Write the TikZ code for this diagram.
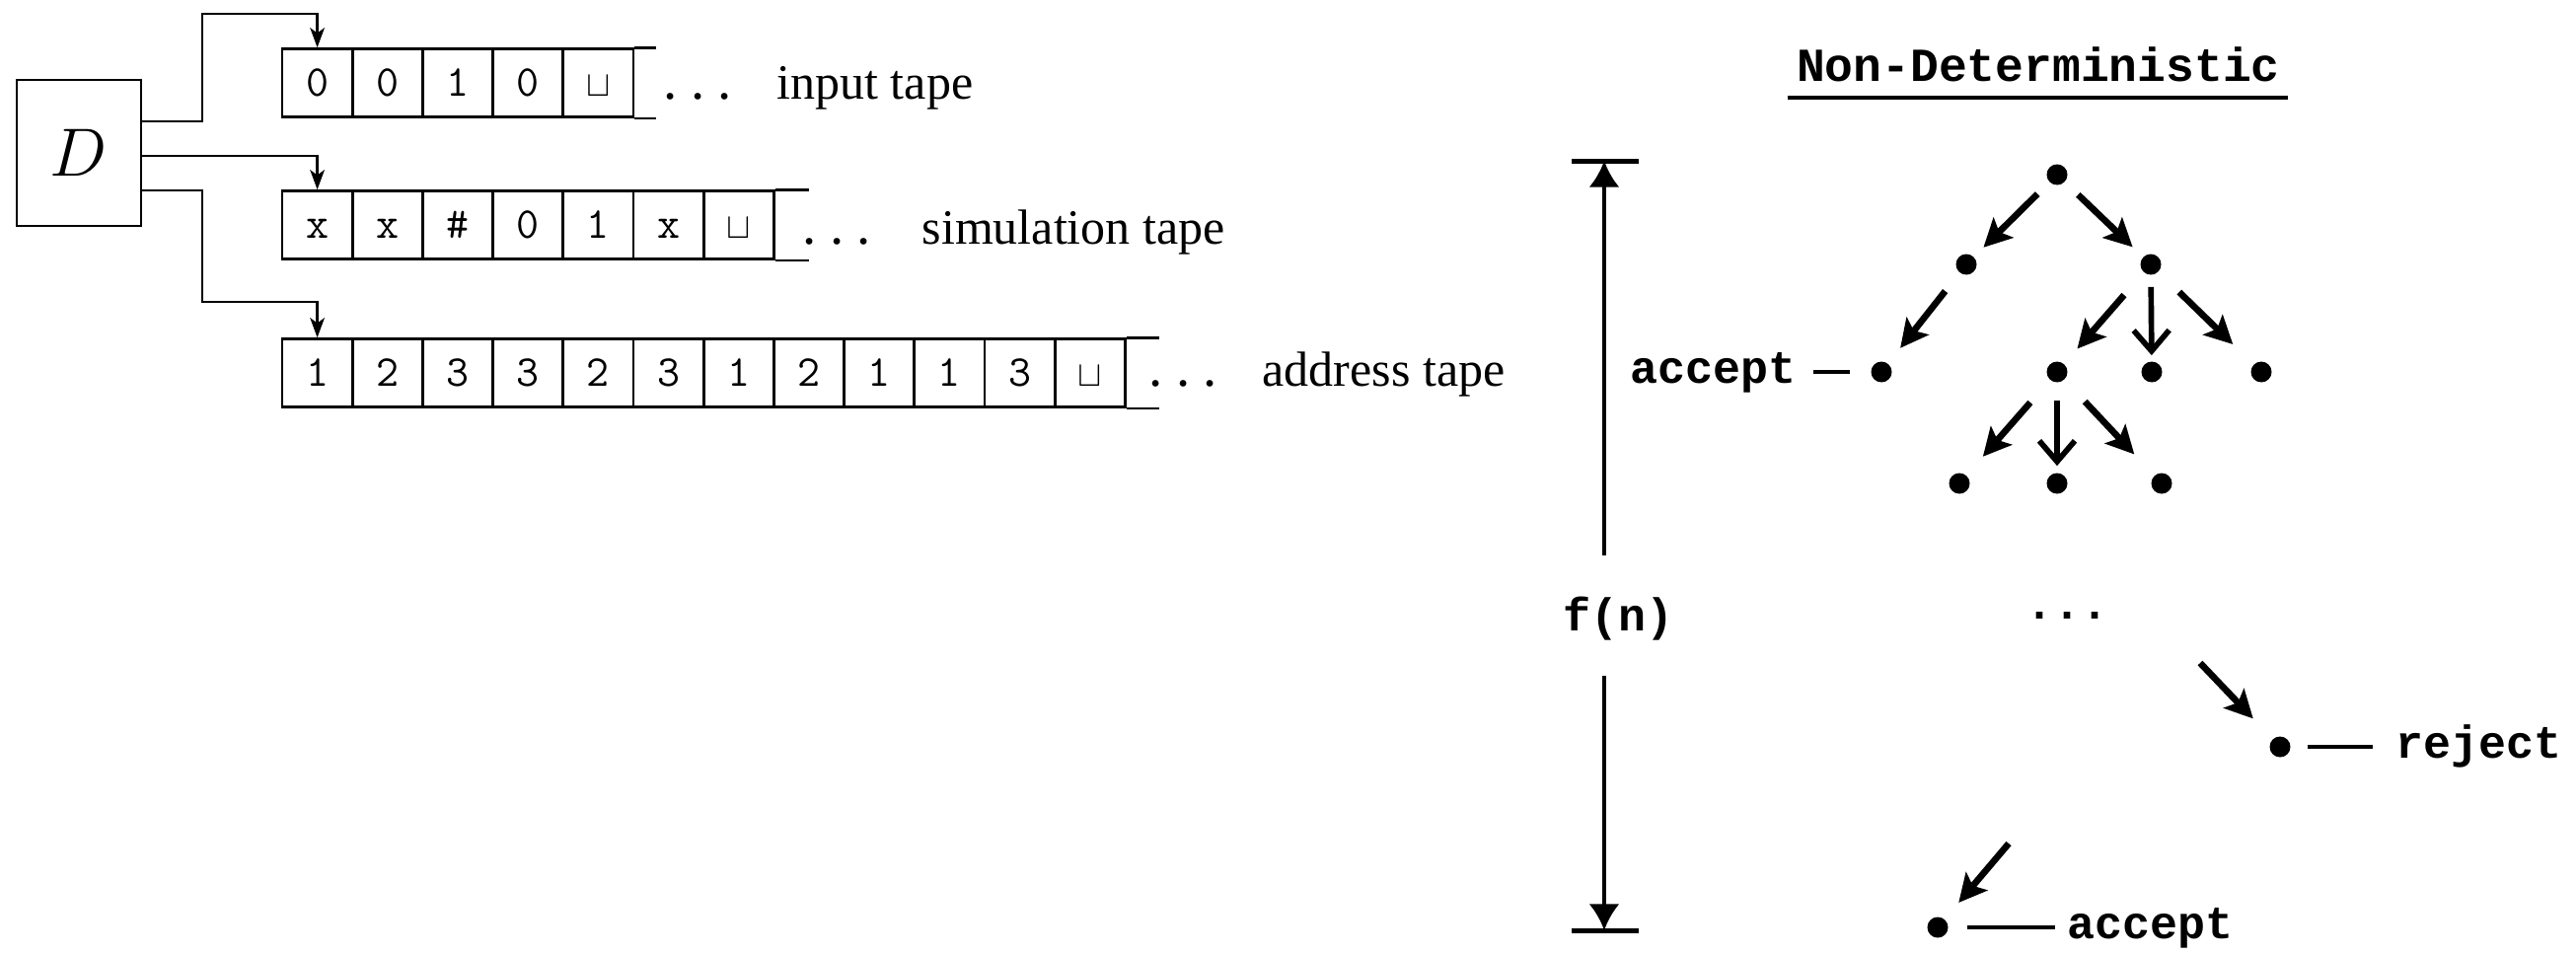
\documentclass[tikz,border=0pt]{standalone}
\usepackage{fontspec}
\setmainfont{Liberation Serif}
\newfontfamily\lmono{Liberation Mono}
\usetikzlibrary{arrows.meta}
\newcommand\blanksym{{\fontsize{10.5}{12}\selectfont$\sqcup$}}
\begin{document}
\begin{tikzpicture}[x=0.3pt,y=-0.3pt,
  tapecell/.style={draw, line width=0.8pt, minimum width=21.36pt, minimum height=20.7pt,
    inner sep=0pt, text height=8.1pt, text depth=0pt, font=\fontsize{13.4}{15}\ttfamily},
  feed/.style={line width=0.7pt, -{Stealth[length=6pt,width=4.4pt,inset=1.6pt]}},
  tapelbl/.style={anchor=base west, inner sep=0pt, font=\fontsize{15}{18}\selectfont},
  tapedots/.style={anchor=base west, inner sep=0pt, font=\fontsize{17}{20}\selectfont},
  vtx/.style={circle, fill, inner sep=0pt, minimum size=6.3pt},
  tarrow/.style={line width=2pt, -{Stealth[length=8.5pt,width=8.5pt,inset=1.8pt]}},
  varrow/.style={line width=1.7pt, -{Straight Barb[length=6.3pt,width=10.8pt]}},
  mono/.style={inner sep=0pt, font=\fontsize{14}{16}\lmono\bfseries},
  lbl/.style={mono, text height=6.9pt, text depth=0pt},
  tick/.style={line width=1.2pt},
  dimarrow/.style={line width=1.2pt, -{Latex[length=8pt,width=9.3pt]}},
  dimbar/.style={line width=1.5pt}
]
\useasboundingbox (0,0) rectangle (2611,966);

% ---------- left: machine D and tapes ----------
\node[draw, line width=0.8pt, minimum width=37.8pt, minimum height=44.4pt, inner sep=0pt,
  font=\fontsize{21}{25}\selectfont] (D) at (80,155) {$D$};

\foreach \t [count=\i] in {0,0,1,0,\blanksym}
  \node[tapecell] (in\i) at ({286+71.2*(\i-0.5)},84) {\t};
\foreach \t [count=\i] in {x,x,\#,0,1,x,\blanksym}
  \node[tapecell] (sm\i) at ({286+71.2*(\i-0.5)},228) {\t};
\foreach \t [count=\i] in {1,2,3,3,2,3,1,2,1,1,3,\blanksym}
  \node[tapecell] (ad\i) at ({286+71.2*(\i-0.5)},378) {\t};

\draw[line width=0.8pt] (in5.north east) -- ++(22,0) (in5.south east) -- ++(22,0);
\draw[line width=0.8pt] (sm7.north east) -- ++(34,0) (sm7.south east) -- ++(34,0);
\draw[line width=0.8pt] (ad12.north east) -- ++(33,0) (ad12.south east) -- ++(33,0);

\coordinate (k1) at (205,14);
\coordinate (k3) at (205,306);
\draw[feed] ([shift={(0,-32)}]D.east) -| (k1) -| (in1.north);
\draw[feed] ([shift={(0,3)}]D.east) -| (sm1.north);
\draw[feed] ([shift={(0,38)}]D.east) -| (k3) -| (ad1.north);

\node[tapedots] (d1) at (672,100) {.\kern4pt.\kern4pt.};
\node[tapelbl] (l1) at (787,101) {input tape};
\node[tapedots] (d2) at (813,247) {.\kern4pt.\kern4pt.};
\node[tapelbl] (l2) at (934,247) {simulation tape};
\node[tapedots] (d3) at (1164,391) {.\kern4pt.\kern4pt.};
\node[tapelbl] (l3) at (1279,391) {address tape};

% ---------- right: non-deterministic tree ----------
\node[inner sep=0pt, anchor=base, font=\fontsize{14.4}{16}\lmono\bfseries] (title) at (2066,82) {Non-Deterministic};
\draw[line width=1.2pt] ([shift={(-9,17)}]title.base west) -- ([shift={(7,17)}]title.base east);

\coordinate (dtop) at (1626,163);
\coordinate (dbot) at (1626,943);
\coordinate (dA) at (1626,563);
\coordinate (dB) at (1626,685);
\node[mono] (fn) at (1640,627) {f(n)};
\draw[dimarrow] (dA) -- (dtop);
\draw[dimarrow] (dB) -- (dbot);
\draw[dimbar] ([shift={(-33,0)}]dtop) -- ([shift={(35,0)}]dtop);
\draw[dimbar] ([shift={(-33,0)}]dbot) -- ([shift={(35,0)}]dbot);

\node[vtx] (r)  at (2085,177) {};
\node[vtx] (p1) at (1993,268) {};
\node[vtx] (p2) at (2180,268) {};
\node[vtx] (q1) at (1907,377) {};
\node[vtx] (q2) at (2085,377) {};
\node[vtx] (q3) at (2181,377) {};
\node[vtx] (q4) at (2292,377) {};
\node[vtx] (u1) at (1986,490) {};
\node[vtx] (u2) at (2085,490) {};
\node[vtx] (u3) at (2191,490) {};
\node[vtx] (rej) at (2311,757) {};
\node[vtx] (acc) at (1964,940) {};

\node[mono, anchor=base] (mdots) at (2095,627) {...};

\node[lbl, anchor=east] (accL) at (1821,377) {accept};
\node[lbl, anchor=west] (rejL) at (2428,757) {reject};
\node[lbl, anchor=west] (accB) at (2095,940) {accept};

\draw[tarrow, shorten <=5pt, shorten >=4pt] (r) -- (p1);
\draw[tarrow, shorten <=5.5pt, shorten >=4.3pt] (r) -- (p2);
\draw[tarrow, shorten <=7pt, shorten >=5.9pt] (p1) -- (q1);
\draw[tarrow, shorten <=9pt, shorten >=6pt] (p2) -- (q2);
\draw[varrow, shorten <=3.5pt, shorten >=1.7pt] (p2) -- (q3);
\draw[tarrow, shorten <=8.7pt, shorten >=8.7pt] (p2) -- (q4);
\draw[tarrow, shorten <=9pt, shorten >=7.5pt] (q2) -- (u1);
\draw[varrow, shorten <=5.2pt, shorten >=2pt] (q2) -- (u2);
\draw[tarrow, shorten <=9pt, shorten >=8.8pt] (q2) -- (u3);

\coordinate (rs) at (2230,672);
\coordinate (as) at (2036,855);
\draw[tarrow, shorten >=8.5pt] (rs) -- (rej);
\draw[tarrow, shorten >=6.5pt] (as) -- (acc);

\draw[tick, shorten <=5.1pt, shorten >=6.4pt] (accL) -- (q1);
\draw[tick, shorten <=5pt, shorten >=6.9pt] (rej) -- (rejL);
\draw[tick, shorten <=5.6pt, shorten >=3.6pt] (acc) -- (accB);
\end{tikzpicture}
\end{document}
